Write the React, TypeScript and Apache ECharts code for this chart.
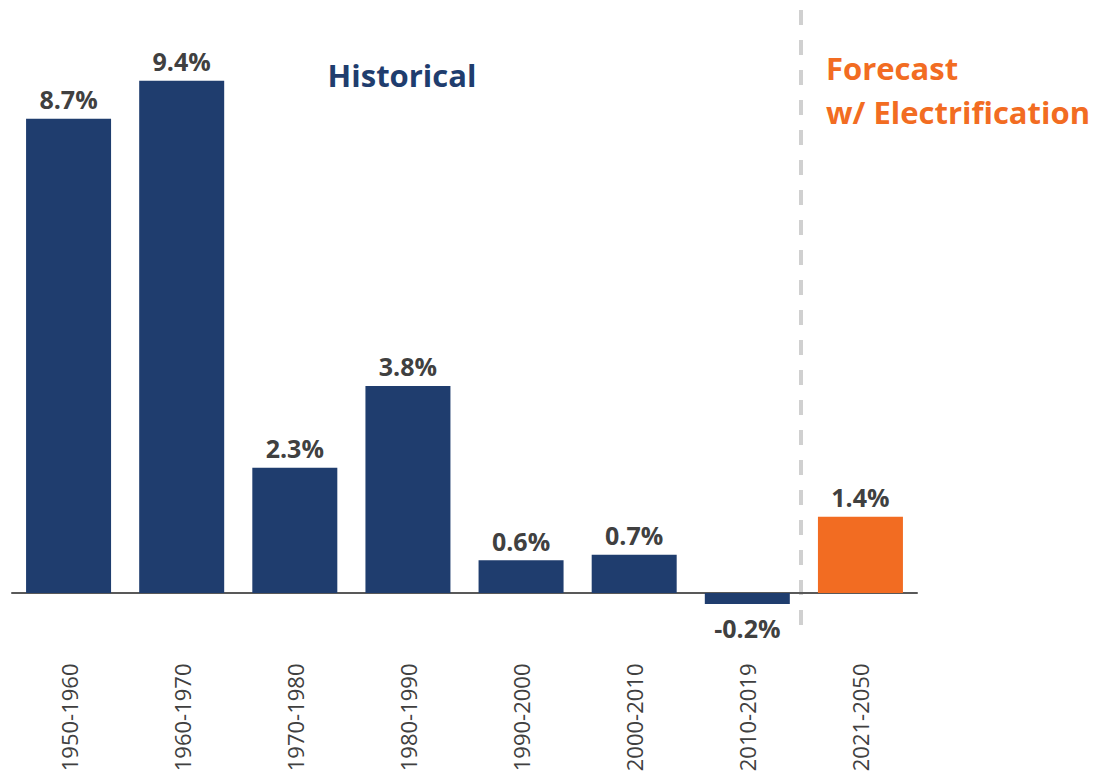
import React, { useEffect, useRef } from "react";
import * as echarts from "echarts";

const categories = ["1950-1960", "1960-1970", "1970-1980", "1980-1990", "1990-2000", "2000-2010", "2010-2019", "2021-2050"];
const values = [8.7, 9.4, 2.3, 3.8, 0.6, 0.7, -0.2, 1.4];
const forecastFlags = [false, false, false, false, false, false, false, true];

const NAVY = "#1F3D6E";
const ORANGE = "#F26C22";
const LABEL = "#404040";

export default function App() {
  const ref = useRef<HTMLDivElement>(null);
  useEffect(() => {
    const chart = echarts.init(ref.current!, null, { renderer: "svg" });
    const data = values.map((v, i) => ({
      value: v,
      itemStyle: { color: forecastFlags[i] ? ORANGE : NAVY },
      label: {
        position: v < 0 ? "bottom" : "top",
        distance: v < 0 ? 12 : 7,
      },
    }));
    chart.setOption({
      animation: false,
      grid: {
        left: 12,
        right: 181,
        top: 48,
        bottom: 128.5,
        containLabel: false,
        outerBoundsMode: "none",
      },
      xAxis: {
        type: "category",
        data: categories,
        axisLine: { onZero: true, lineStyle: { color: "#595959", width: 2 } },
        axisTick: { show: false },
        axisLabel: {
          rotate: 90,
          margin: 16,
          fontFamily: "Open Sans",
          fontSize: 22,
          color: LABEL,
        },
      },
      yAxis: {
        type: "value",
        min: -1,
        max: 10,
        interval: 1,
        show: false,
        splitLine: { show: false },
      },
      series: [
        {
          type: "bar",
          data,
          barWidth: 85,
          label: {
            show: true,
            formatter: (p: any) => `${p.value}%`,
            fontFamily: "Open Sans",
            fontWeight: "bold",
            fontSize: 25,
            color: LABEL,
          },
        },
      ],
      graphic: [
        {
          type: "line",
          shape: { x1: 801, y1: 10, x2: 801, y2: 640 },
          style: { stroke: "#D0D0D0", lineWidth: 4, lineDash: [15, 15] },
        },
        {
          type: "text",
          x: 402,
          y: 75,
          style: {
            text: "Historical",
            fill: NAVY,
            font: "bold 31px 'Open Sans'",
            align: "center",
            verticalAlign: "middle",
          },
        },
        {
          type: "text",
          x: 826,
          y: 68,
          style: {
            text: "Forecast",
            fill: ORANGE,
            font: "bold 31px 'Open Sans'",
            align: "left",
            verticalAlign: "middle",
          },
        },
        {
          type: "text",
          x: 826,
          y: 112,
          style: {
            text: "w/ Electrification",
            fill: ORANGE,
            font: "bold 31px 'Open Sans'",
            align: "left",
            verticalAlign: "middle",
          },
        },
      ],
    });
    return () => chart.dispose();
  }, []);
  return <div ref={ref} style={{ width: 1098, height: 776, position: "absolute", left: 0, top: 0 }} />;
}
